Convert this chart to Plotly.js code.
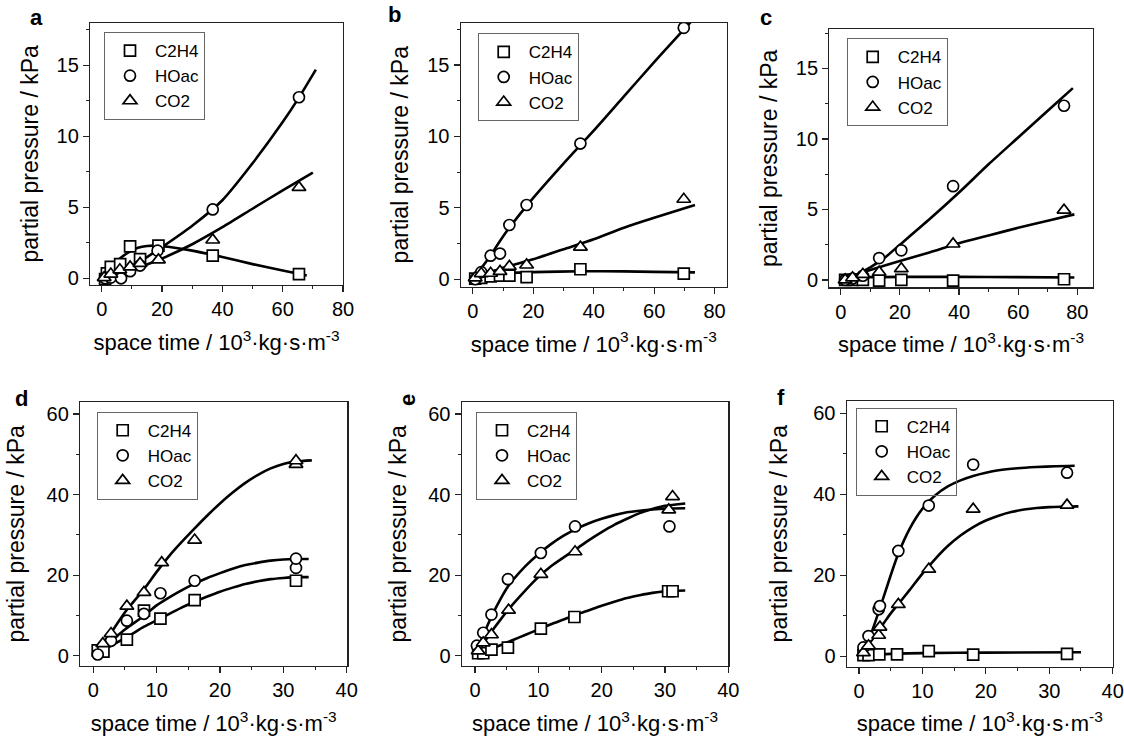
<!DOCTYPE html>
<html><head><meta charset="utf-8">
<script src="https://cdn.plot.ly/plotly-3.0.1.min.js"></script>
<style>html,body{margin:0;padding:0;background:#fff}#chart{width:1124px;height:736px}</style>
</head><body><div id="chart"></div>
<script>
// ---------------- data ----------------
const seriesNames = ['C2H4', 'HOac', 'CO2'];
const panelLetters = ['a', 'b', 'c', 'd', 'e', 'f'];
const xTitle = 'space time / 10<sup>3</sup>·kg·s·m<sup>-3</sup>';
const yTitle = 'partial pressure / kPa';

// panel a
const aC2H4x = [1.1, 1.7, 3.0, 6.1, 9.4, 12.7, 18.8, 36.8, 65.4];
const aC2H4y = [-0.05, 0.35, 0.8, 1.0, 2.25, 1.35, 2.3, 1.6, 0.3];
const aHOacx = [1.1, 3.0, 6.4, 9.4, 12.7, 18.5, 36.8, 65.4];
const aHOacy = [0.0, 0.05, 0.0, 0.5, 0.9, 1.95, 4.85, 12.75];
const aCO2x = [0.8, 3.0, 6.0, 9.4, 12.7, 18.8, 36.8, 65.4];
const aCO2y = [0.05, 0.3, 0.6, 0.8, 1.05, 1.3, 2.7, 6.4];
const aFitC2H4x = [0, 3, 6, 9, 12, 15, 18, 22, 30, 40, 50, 60, 68];
const aFitC2H4y = [0, 0.8, 1.4, 1.85, 2.15, 2.28, 2.3, 2.22, 1.95, 1.5, 1.0, 0.55, 0.2];
const aFitHOacx = [0, 5, 10, 15, 20, 30, 40, 50, 60, 65, 71];
const aFitHOacy = [0, 0.4, 0.9, 1.5, 2.2, 3.7, 5.5, 8.1, 11.0, 12.6, 14.7];
const aFitCO2x = [0, 10, 20, 30, 40, 50, 60, 70];
const aFitCO2y = [0, 0.6, 1.4, 2.4, 3.6, 4.9, 6.2, 7.45];

// panel b
const bC2H4x = [0.8, 2.8, 5.9, 9.0, 12.1, 17.8, 35.6, 69.8];
const bC2H4y = [0.05, 0.1, 0.2, 0.25, 0.25, 0.15, 0.7, 0.4];
const bHOacx = [0.8, 2.8, 5.9, 9.0, 12.1, 17.8, 35.6, 69.8];
const bHOacy = [0.0, 0.5, 1.65, 1.8, 3.8, 5.2, 9.5, 17.6];
const bCO2x = [0.8, 2.8, 5.9, 9.0, 12.1, 17.8, 35.6, 69.8];
const bCO2y = [0.1, 0.4, 0.42, 0.55, 0.9, 1.0, 2.25, 5.6];
const bFitC2H4x = [0, 3, 6, 10, 20, 36, 50, 60, 73.5];
const bFitC2H4y = [0, 0.2, 0.33, 0.42, 0.5, 0.56, 0.55, 0.52, 0.48];
const bFitHOacx = [0, 5, 10, 15, 20, 30, 40, 50, 60, 72.5];
const bFitHOacy = [0, 1.4, 3.0, 4.4, 5.7, 8.1, 10.4, 12.8, 15.2, 18.1];
const bFitCO2x = [0, 5, 10, 20, 30, 40, 50, 60, 73.5];
const bFitCO2y = [0, 0.4, 0.8, 1.4, 2.1, 2.8, 3.6, 4.3, 5.2];

// panel c
const cC2H4x = [1.5, 4.0, 7.5, 13.0, 20.5, 38.0, 75.5];
const cC2H4y = [0.0, 0.0, 0.0, -0.05, 0.0, -0.05, 0.05];
const cHOacx = [1.5, 4.0, 7.5, 13.0, 20.5, 38.0, 75.5];
const cHOacy = [0.0, 0.1, 0.3, 1.55, 2.1, 6.65, 12.35];
const cCO2x = [1.5, 4.0, 7.5, 13.0, 20.5, 38.0, 75.5];
const cCO2y = [0.0, 0.15, 0.4, 0.55, 0.8, 2.55, 4.95];
const cFitC2H4x = [0, 5, 10, 20, 40, 60, 79];
const cFitC2H4y = [0, 0.15, 0.2, 0.22, 0.22, 0.2, 0.18];
const cFitHOacx = [0, 5, 10, 15, 20, 30, 40, 50, 60, 70, 78.5];
const cFitHOacy = [0, 0.35, 0.9, 1.6, 2.5, 4.3, 6.2, 8.2, 10.1, 12.0, 13.6];
const cFitCO2x = [0, 5, 10, 20, 30, 40, 50, 60, 70, 79];
const cFitCO2y = [0, 0.35, 0.7, 1.35, 1.95, 2.6, 3.15, 3.7, 4.2, 4.65];

// panel d
const dC2H4x = [0.7, 1.6, 5.3, 8.0, 10.6, 16.0, 32.0];
const dC2H4y = [1.3, 1.0, 4.0, 11.2, 9.2, 13.8, 18.6];
const dHOacx = [0.7, 2.8, 5.3, 8.0, 10.6, 16.0, 32.0, 32.0];
const dHOacy = [0.3, 3.7, 8.7, 10.4, 15.5, 18.6, 21.8, 24.1];
const dCO2x = [1.5, 2.8, 5.3, 8.0, 10.8, 16.0, 32.0, 32.0];
const dCO2y = [3.0, 5.5, 12.3, 15.7, 23.1, 28.7, 47.5, 48.4];
const dFitC2H4x = [0, 2, 4, 6, 8, 10, 12, 14, 16, 18, 20, 22, 24, 26, 28, 30, 32, 34];
const dFitC2H4y = [0.3, 1.8, 3.5, 5.3, 7.2, 8.8, 10.4, 12.0, 13.4, 14.7, 15.9, 16.9, 17.8, 18.5, 19.0, 19.3, 19.5, 19.5];
const dFitHOacx = [0, 2.5, 5, 8, 10, 12, 14, 16, 18, 20, 22, 24, 26, 28, 30, 32, 34];
const dFitHOacy = [0.3, 3.3, 6.5, 9.9, 12.5, 14.5, 16.3, 17.9, 19.3, 20.5, 21.6, 22.5, 23.1, 23.6, 23.9, 24.0, 24.0];
const dFitCO2x = [0, 2.5, 5, 8, 10, 12, 14, 16, 18, 20, 22, 24, 26, 28, 30, 32, 34.5];
const dFitCO2y = [0.5, 5.0, 10.8, 16.5, 20.8, 24.8, 28.3, 31.6, 34.8, 37.8, 40.5, 42.9, 44.9, 46.5, 47.6, 48.2, 48.5];

// panel e
const eC2H4x = [0.5, 1.3, 2.6, 5.2, 10.4, 15.7, 30.5, 31.2];
const eC2H4y = [0.6, 0.6, 1.5, 2.0, 6.7, 9.6, 16.0, 16.0];
const eHOacx = [0.3, 1.3, 2.6, 5.2, 10.4, 15.8, 30.7];
const eHOacy = [2.5, 5.7, 10.2, 19.0, 25.5, 32.1, 32.1];
const eCO2x = [0.5, 1.3, 2.6, 5.3, 10.4, 15.8, 30.6, 31.2];
const eCO2y = [1.2, 3.2, 5.2, 11.3, 20.2, 25.8, 36.2, 39.5];
const eFitC2H4x = [0, 2, 4, 6, 8, 10, 12, 14, 16, 18, 20, 22, 24, 26, 28, 30, 33.2];
const eFitC2H4y = [0.3, 1.4, 2.6, 3.9, 5.2, 6.5, 7.8, 9.0, 10.2, 11.3, 12.4, 13.4, 14.3, 15.0, 15.6, 16.0, 16.2];
const eFitHOacx = [0, 1, 2, 3, 4, 5, 6, 8, 10, 12, 14, 16, 18, 20, 22, 24, 26, 28, 30, 33.2];
const eFitHOacy = [0.5, 4.0, 7.6, 11.0, 14.0, 16.7, 18.8, 22.3, 25.2, 27.7, 29.8, 31.5, 32.9, 34.0, 34.9, 35.6, 36.0, 36.3, 36.5, 36.6];
const eFitCO2x = [0, 1, 2, 3, 4, 5, 6, 8, 10, 12, 14, 16, 18, 20, 22, 24, 26, 28, 30, 33.2];
const eFitCO2y = [0.3, 2.4, 4.6, 6.8, 8.9, 10.9, 12.8, 16.3, 19.5, 22.2, 24.4, 26.5, 28.7, 30.7, 32.5, 34.0, 35.4, 36.4, 37.2, 37.8];

// panel f
const fC2H4x = [0.7, 1.5, 3.2, 6.0, 11.0, 18.0, 32.8];
const fC2H4y = [0.3, 0.3, 0.5, 0.5, 1.3, 0.4, 0.6];
const fHOacx = [0.7, 1.5, 3.1, 3.3, 6.2, 11.0, 18.0, 32.8];
const fHOacy = [2.2, 5.0, 11.6, 12.4, 26.0, 37.2, 47.3, 45.3];
const fCO2x = [0.7, 1.5, 3.1, 3.3, 6.2, 11.0, 18.0, 32.8];
const fCO2y = [0.9, 2.6, 5.2, 7.2, 12.8, 21.5, 36.3, 37.3];
const fFitC2H4x = [0, 5, 10, 20, 35];
const fFitC2H4y = [0.2, 0.6, 0.8, 0.9, 1.0];
const fFitHOacx = [0, 1, 2, 3, 4, 5, 6, 7, 8, 9, 10, 11, 12, 14, 16, 18, 20, 22, 25, 28, 31, 34];
const fFitHOacy = [0.5, 2.5, 6.0, 10.5, 15.2, 20.0, 24.5, 28.3, 31.5, 34.2, 36.4, 38.2, 39.7, 41.9, 43.4, 44.5, 45.3, 45.9, 46.4, 46.7, 46.9, 47.0];
const fFitCO2x = [0, 1, 2, 3, 4, 5, 6, 8, 10, 12, 14, 16, 18, 20, 22, 24, 26, 28, 30, 32, 34.6];
const fFitCO2y = [0.3, 2.0, 4.0, 6.2, 8.4, 10.6, 12.5, 16.4, 20.4, 24.0, 27.2, 29.8, 31.9, 33.5, 34.7, 35.6, 36.2, 36.6, 36.8, 36.9, 37.0];

// axes ranges and ticks
const xRanges = [[-3.9, 80], [-4, 84], [-3.85, 85.2], [-2.1, 40.1], [-2.1, 40], [-1.94, 40]];
const yRanges = [[-0.47, 18], [-0.52, 17.96], [-0.52, 17.77], [-2.56, 63.06], [-2.56, 63.06], [-2.56, 63.06]];
const xDticks = [20, 20, 20, 10, 10, 10];
const yDticks = [5, 5, 5, 20, 20, 20];

// ---------------- layout geometry ----------------
const W = 1124, H = 736;
const boxes = [ // [left, right, top, bottom] in px
  [90, 343, 22.7, 285], [460.7, 726.7, 22.7, 286.7], [829.3, 1092.7, 29.3, 287.3],
  [80, 347.3, 401.7, 666], [461.7, 728.3, 401.7, 666], [846.7, 1112.7, 400.7, 666.7]
];
const legendPos = [[104, 32], [477.7, 33.3], [846.7, 38.3], [96.7, 411.7], [476, 411.7], [855.7, 407.7]];
const letterPos = [[36, 17], [394.5, 14], [766, 17], [21, 398], [407, 400], [781, 397]];
const yStandoff = [11, 12, 11, 15, 15, 19];
const xStandoff = [15, 15, 15, 20, 20, 20];

const FONT = 'Liberation Sans, Arial, Helvetica, sans-serif';
const symbols = ['square', 'circle', 'triangle-up'];

const panelData = {
  a: {pts: [[aC2H4x, aC2H4y], [aHOacx, aHOacy], [aCO2x, aCO2y]], fits: [[aFitC2H4x, aFitC2H4y], [aFitHOacx, aFitHOacy], [aFitCO2x, aFitCO2y]]},
  b: {pts: [[bC2H4x, bC2H4y], [bHOacx, bHOacy], [bCO2x, bCO2y]], fits: [[bFitC2H4x, bFitC2H4y], [bFitHOacx, bFitHOacy], [bFitCO2x, bFitCO2y]]},
  c: {pts: [[cC2H4x, cC2H4y], [cHOacx, cHOacy], [cCO2x, cCO2y]], fits: [[cFitC2H4x, cFitC2H4y], [cFitHOacx, cFitHOacy], [cFitCO2x, cFitCO2y]]},
  d: {pts: [[dC2H4x, dC2H4y], [dHOacx, dHOacy], [dCO2x, dCO2y]], fits: [[dFitC2H4x, dFitC2H4y], [dFitHOacx, dFitHOacy], [dFitCO2x, dFitCO2y]]},
  e: {pts: [[eC2H4x, eC2H4y], [eHOacx, eHOacy], [eCO2x, eCO2y]], fits: [[eFitC2H4x, eFitC2H4y], [eFitHOacx, eFitHOacy], [eFitCO2x, eFitCO2y]]},
  f: {pts: [[fC2H4x, fC2H4y], [fHOacx, fHOacy], [fCO2x, fCO2y]], fits: [[fFitC2H4x, fFitC2H4y], [fFitHOacx, fFitHOacy], [fFitCO2x, fFitCO2y]]}
};

const traces = [];
const layout = {
  width: W, height: H,
  margin: {l: 0, r: 0, t: 0, b: 0},
  paper_bgcolor: '#fff', plot_bgcolor: '#fff',
  font: {family: FONT, color: '#000'},
  showlegend: true,
  annotations: []
};

panelLetters.forEach((p, i) => {
  const n = i + 1;
  const xa = n === 1 ? 'x' : 'x' + n;
  const ya = n === 1 ? 'y' : 'y' + n;
  const legName = n === 1 ? 'legend' : 'legend' + n;
  const pd = panelData[p];
  pd.fits.forEach((f) => {
    traces.push({x: f[0], y: f[1], xaxis: xa, yaxis: ya, mode: 'lines', type: 'scatter',
      line: {color: '#000', width: 2.6, shape: 'spline', smoothing: 0.7},
      showlegend: false, hoverinfo: 'skip'});
  });
  pd.pts.forEach((s, k) => {
    traces.push({x: s[0], y: s[1], xaxis: xa, yaxis: ya, mode: 'markers', type: 'scatter',
      name: seriesNames[k], legend: legName,
      marker: {symbol: symbols[k], size: k === 2 ? 12 : 11, color: '#fff', line: {color: '#000', width: 1.7}}});
  });
  const b = boxes[i];
  const axCommon = {
    showline: true, mirror: true, linecolor: '#222', linewidth: 1.2,
    ticks: 'outside', ticklen: 6, tickwidth: 1.2, tickcolor: '#222',
    showgrid: false, zeroline: false,
    tickfont: {family: FONT, size: 20, color: '#000'},
    minor: {ticks: 'outside', ticklen: 3, tickwidth: 1, tickcolor: '#222', showgrid: false}
  };
  layout['xaxis' + (n === 1 ? '' : n)] = Object.assign({}, axCommon, {
    domain: [b[0] / W, b[1] / W], range: xRanges[i], anchor: ya,
    tick0: 0, dtick: xDticks[i], minor: Object.assign({}, axCommon.minor, {dtick: xDticks[i] / 2}),
    title: {text: xTitle, font: {family: FONT, size: 22, color: '#000'}, standoff: xStandoff[i]}
  });
  layout['yaxis' + (n === 1 ? '' : n)] = Object.assign({}, axCommon, {
    domain: [1 - b[3] / H, 1 - b[2] / H], range: yRanges[i], anchor: xa,
    tick0: 0, dtick: yDticks[i], minor: Object.assign({}, axCommon.minor, {dtick: yDticks[i] / 2}),
    title: {text: yTitle, font: {family: FONT, size: 23, color: '#000'}, standoff: yStandoff[i]}
  });
  const lp = legendPos[i];
  layout[legName] = {
    x: lp[0] / W, y: 1 - lp[1] / H, xanchor: 'left', yanchor: 'top',
    xref: 'paper', yref: 'paper',
    bgcolor: 'rgba(255,255,255,0)', bordercolor: '#666', borderwidth: 1,
    font: {family: FONT, size: 17, color: '#000'}, tracegroupgap: 0, itemwidth: 40
  };
  const tp = letterPos[i];
  layout.annotations.push({
    text: '<b>' + p + '</b>', x: tp[0] / W, y: 1 - tp[1] / H, xref: 'paper', yref: 'paper',
    xanchor: 'center', yanchor: 'middle', showarrow: false,
    textangle: p === 'e' ? -90 : 0,
    font: {family: FONT, size: 22, color: '#000'}
  });
});

Plotly.newPlot('chart', traces, layout, {staticPlot: true});
</script>
</body></html>
